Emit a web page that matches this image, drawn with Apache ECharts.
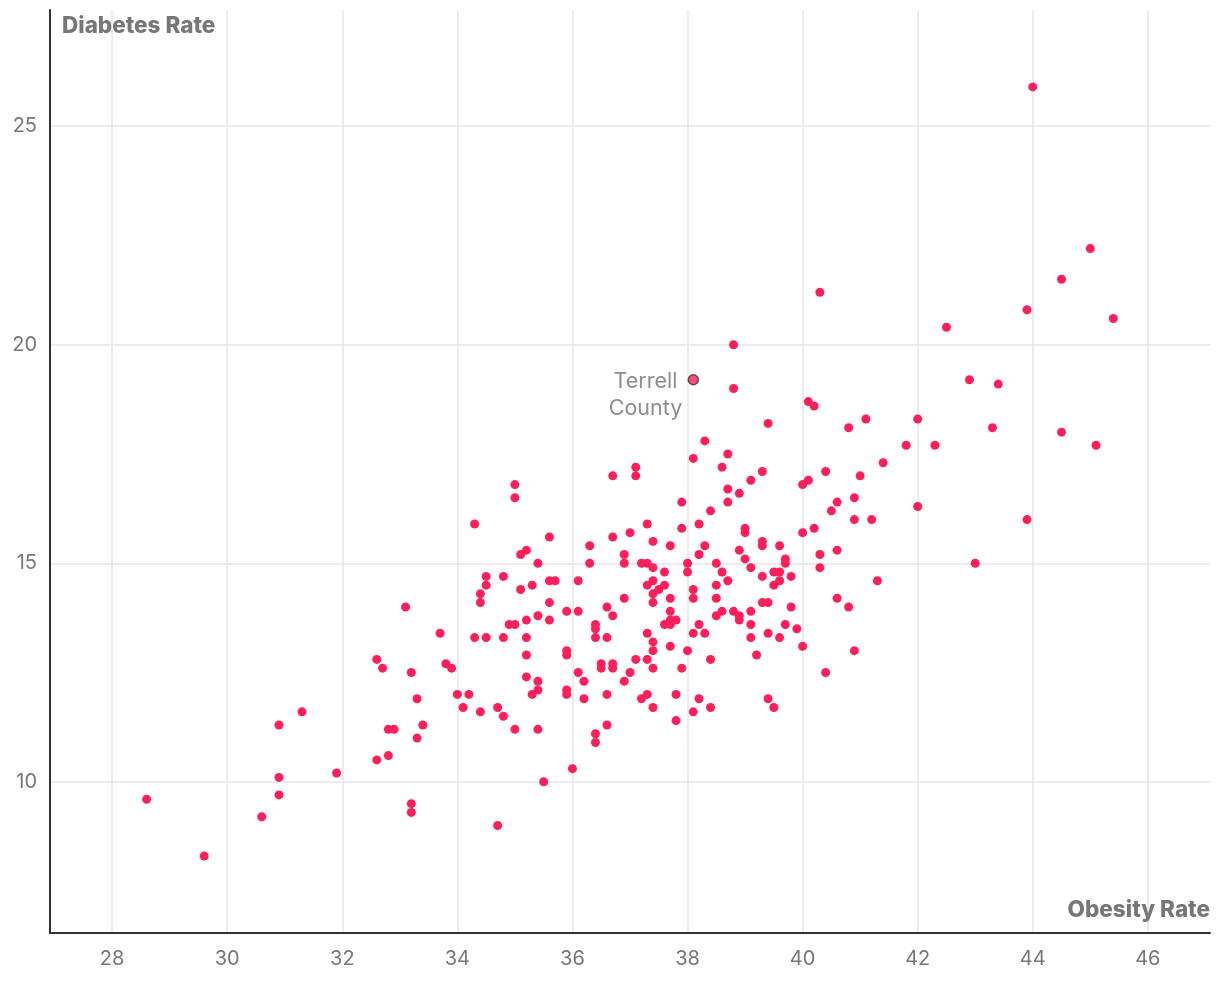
<!DOCTYPE html>
<html>
<head>
<meta charset="utf-8">
<script src="https://cdn.jsdelivr.net/npm/echarts@6/dist/echarts.min.js"></script>
<style>
html,body{margin:0;padding:0;background:#fff;}
#chart{width:1220px;height:1006px;}
</style>
</head>
<body>
<div id="chart"></div>
<script>
// Obesity rate (x) and diabetes rate (y), one entry per county
const obesity = [
28.6,29.6,30.6,30.9,30.9,30.9,31.3,31.9,
33.7,34.3,34.5,34.8,35.2,35.2,35.2,32.6,32.7,33.2,33.8,33.9,33.3,34.0,34.2,34.1,34.4,34.7,34.8,35.0,33.4,32.8,32.9,33.3,32.6,32.8,33.2,33.2,34.7,
36.0,35.5,35.4,36.4,36.4,36.6,36.2,36.6,35.9,35.9,36.1,36.2,35.9,35.9,36.4,36.6,36.5,36.5,36.7,36.7,36.9,37.0,37.1,37.3,37.4,37.3,37.4,37.4,37.7,38.0,38.1,38.3,38.4,37.9,37.2,37.3,37.4,37.8,37.8,38.1,38.2,38.4,35.4,35.4,35.3,
39.1,39.4,39.6,40.0,39.2,40.9,40.4,39.4,39.5,
35.0,35.0,34.3,35.1,35.2,34.5,34.5,34.4,34.4,34.8,35.1,35.3,33.1,34.9,35.0,35.2,
38.3,38.1,38.7,38.6,37.1,37.1,36.7,38.7,37.9,38.7,38.4,38.2,37.9,37.3,37.0,36.7,35.6,36.3,37.4,37.7,38.3,38.2,36.9,36.9,36.3,35.4,37.2,37.3,37.4,37.6,38.0,38.0,38.5,38.6,38.7,38.5,38.1,38.1,38.5,38.6,38.5,38.2,37.3,37.4,37.6,37.4,37.5,37.4,37.7,37.7,37.7,37.8,37.6,37.7,36.9,36.6,36.7,36.4,36.4,36.1,36.1,35.9,35.6,35.7,35.6,35.6,35.4,
39.4,40.8,41.1,42.0,41.8,41.4,39.3,39.1,40.4,41.0,40.0,40.1,38.9,40.6,40.5,40.9,40.9,41.2,42.0,40.2,40.0,39.0,39.0,39.3,39.3,39.6,38.9,39.0,39.1,39.7,39.7,40.3,40.6,40.3,39.5,39.6,39.3,39.8,39.5,39.6,41.3,40.6,40.8,39.3,39.4,39.8,38.8,38.9,38.9,39.1,39.1,39.7,39.9,
45.0,44.5,45.4,43.9,42.5,42.9,43.4,43.3,42.3,44.5,45.1,43.9,43.0,44.0,40.3,38.8,38.8,40.1,40.2
];
const diabetes = [
9.6,8.3,9.2,11.3,10.1,9.7,11.6,10.2,
13.4,13.3,13.3,13.3,13.3,12.9,12.4,12.8,12.6,12.5,12.7,12.6,11.9,12.0,12.0,11.7,11.6,11.7,11.5,11.2,11.3,11.2,11.2,11.0,10.5,10.6,9.5,9.3,9.0,
10.3,10.0,11.2,11.1,10.9,11.3,11.9,12.0,12.1,12.0,12.5,12.3,13.0,12.9,13.3,13.3,12.7,12.6,12.7,12.6,12.3,12.5,12.8,12.8,12.6,13.4,13.2,13.0,13.1,13.0,13.4,13.4,12.8,12.6,11.9,12.0,11.7,12.0,11.4,11.6,11.9,11.7,12.3,12.1,12.0,
13.3,13.4,13.3,13.1,12.9,13.0,12.5,11.9,11.7,
16.8,16.5,15.9,15.2,15.3,14.7,14.5,14.3,14.1,14.7,14.4,14.5,14.0,13.6,13.6,13.7,
17.8,17.4,17.5,17.2,17.2,17.0,17.0,16.7,16.4,16.4,16.2,15.9,15.8,15.9,15.7,15.6,15.6,15.4,15.5,15.4,15.4,15.2,15.2,15.0,15.0,15.0,15.0,15.0,14.9,14.8,15.0,14.8,15.0,14.8,14.6,14.5,14.4,14.2,14.2,13.9,13.8,13.6,14.5,14.6,14.5,14.3,14.4,14.1,14.2,13.9,13.7,13.7,13.6,13.6,14.2,14.0,13.8,13.6,13.5,14.6,13.9,13.9,14.6,14.6,14.1,13.7,13.8,
18.2,18.1,18.3,18.3,17.7,17.3,17.1,16.9,17.1,17.0,16.8,16.9,16.6,16.4,16.2,16.5,16.0,16.0,16.3,15.8,15.7,15.8,15.7,15.5,15.4,15.4,15.3,15.1,14.9,15.1,15.0,15.2,15.3,14.9,14.8,14.8,14.7,14.7,14.5,14.6,14.6,14.2,14.0,14.1,14.1,14.0,13.9,13.8,13.7,13.9,13.6,13.6,13.5,
22.2,21.5,20.6,20.8,20.4,19.2,19.1,18.1,17.7,18.0,17.7,16.0,15.0,25.9,21.2,20.0,19.0,18.7,18.6
];
const highlightName = ['Terrell', 'County'];
const highlightPoint = [38.1, 19.2];
const xAxisTitle = 'Obesity Rate';
const yAxisTitle = 'Diabetes Rate';

const points = obesity.map((x, i) => [x, diabetes[i]]);
const xs = obesity.concat([highlightPoint[0]]);
const ys = diabetes.concat([highlightPoint[1]]);
const xMin = Math.min(...xs), xMax = Math.max(...xs);
const yMin = Math.min(...ys), yMax = Math.max(...ys);
const xPad = (xMax - xMin) * 0.1, yPad = (yMax - yMin) * 0.1;

const FONT = 'Inter, "Noto Sans", sans-serif';
const chart = echarts.init(document.getElementById('chart'), null, {renderer: 'canvas'});
chart.setOption({
  animation: false,
  backgroundColor: '#fff',
  grid: {left: 50, right: 10, top: 10, bottom: 73, containLabel: false},
  xAxis: {
    type: 'value',
    min: +(xMin - xPad).toFixed(3),
    max: +(xMax + xPad).toFixed(3),
    splitNumber: 10,
    name: xAxisTitle,
    nameLocation: 'end',
    nameGap: 0,
    nameTextStyle: {fontFamily: FONT, fontSize: 22.5, fontWeight: 800, color: '#777', align: 'right', verticalAlign: 'bottom', padding: [0, 0, 11, 0]},
    axisLine: {show: true, lineStyle: {color: '#333', width: 2}},
    axisTick: {show: false},
    axisLabel: {fontFamily: FONT, fontSize: 20, color: '#777', margin: 16, showMinLabel: false, showMaxLabel: false},
    splitLine: {show: true, showMinLine: false, showMaxLine: false, lineStyle: {color: '#e6e6e6', width: 1.5}}
  },
  yAxis: {
    type: 'value',
    min: +(yMin - yPad).toFixed(3),
    max: +(yMax + yPad).toFixed(3),
    splitNumber: 4,
    name: yAxisTitle,
    nameLocation: 'end',
    nameGap: -16,
    nameTextStyle: {fontFamily: FONT, fontSize: 22.5, fontWeight: 800, color: '#777', align: 'left', verticalAlign: 'middle', padding: [0, 0, 0, 12]},
    axisLine: {show: true, lineStyle: {color: '#333', width: 2}},
    axisTick: {show: false},
    axisLabel: {fontFamily: FONT, fontSize: 20, color: '#777', margin: 13, showMinLabel: false, showMaxLabel: false},
    splitLine: {show: true, showMinLine: false, showMaxLine: false, lineStyle: {color: '#e6e6e6', width: 1.5}}
  },
  series: [
    {
      type: 'scatter',
      data: points,
      symbolSize: 9,
      itemStyle: {color: '#ff1f5a', opacity: 1},
      silent: true
    },
    {
      type: 'scatter',
      data: [highlightPoint],
      symbolSize: 10,
      itemStyle: {color: '#ff1f5a', borderColor: '#333', borderWidth: 1.5},
      label: {
        show: true,
        position: 'left',
        distance: 42,
        offset: [0, 15],
        formatter: highlightName.join('\n'),
        fontFamily: FONT,
        fontSize: 21.5,
        lineHeight: 27,
        color: '#707070',
        align: 'center'
      },
      silent: true,
      z: 5
    }
  ]
});
</script>
</body>
</html>
